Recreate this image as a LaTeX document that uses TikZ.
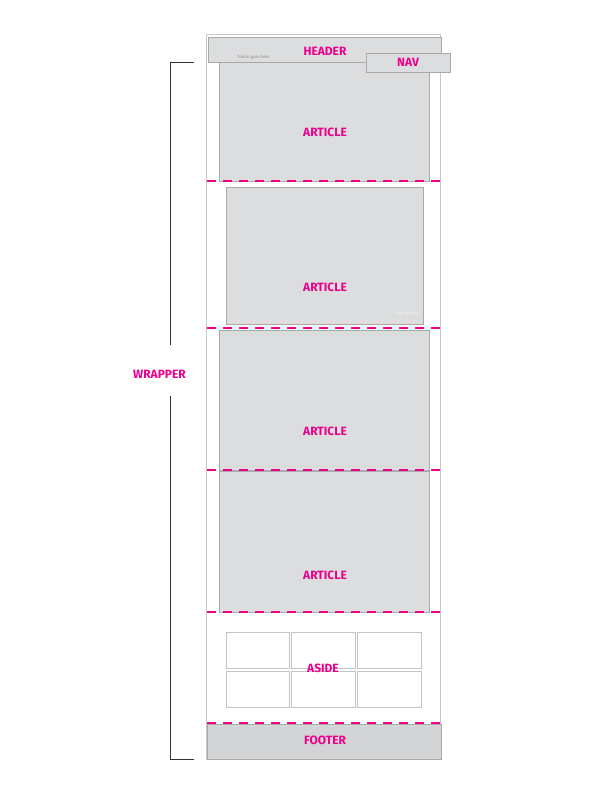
\documentclass[tikz,border=0pt]{standalone}
\usepackage{fontspec}
\setmainfont{Fira Sans}
\newfontfamily\smallserif{Liberation Serif}
\definecolor{mag}{HTML}{EC008C}
\definecolor{boxfill}{HTML}{DCDDDE}
\definecolor{footfill}{HTML}{D3D4D6}
\definecolor{boxline}{HTML}{A9A9A9}
\definecolor{cellline}{HTML}{C4C4C4}
\definecolor{outline}{HTML}{C8C8C8}
\tikzset{
  lbl/.style={text=mag, font=\fontsize{12}{12}\selectfont\bfseries, inner sep=0pt},
  panel/.style={draw=boxline, fill=boxfill, line width=0.8pt},
  cell/.style={draw=cellline, fill=white, line width=0.8pt},
  sep/.style={draw=mag, line width=2pt, dash pattern=on 8.5pt off 7.5pt},
  brack/.style={draw=black!80, line width=0.8pt},
}
\begin{document}
\begin{tikzpicture}[x=1pt,y=-1pt]
\useasboundingbox (0,0) rectangle (612,792);
% outer wrapper
\node[draw=outline, line width=0.8pt, fill=white, minimum width=234.5pt, minimum height=725pt, inner sep=0pt] (wrap) at (323.5,396.5) {};
% articles
\draw[panel] (219,62) rectangle (429.5,181);
\draw[panel] (226,187) rectangle (423,324.5);
\draw[panel] (219,330) rectangle (429.5,470);
\draw[panel] (219,471) rectangle (429.5,612.5);
% header and nav
\draw[panel] (208,37) rectangle (441,62);
\draw[panel] (366,53) rectangle (450,72);
% footer
\draw[draw=boxline, fill=footfill, line width=0.8pt] (207,724) rectangle (441.5,759);
% aside cells
\foreach \xa/\xb in {226/289,291/355,357/421}{
  \draw[cell] (\xa,632) rectangle (\xb,668);
  \draw[cell] (\xa,671) rectangle (\xb,707);
}
% dashed separators
\foreach \yy/\nm in {181/s1,328/s2,470/s3,612/s4,723/s5}{
  \coordinate (\nm a) at (207,\yy);
  \coordinate (\nm b) at (441,\yy);
  \draw[sep] (\nm a) -- (\nm b);
}
% labels
\node[lbl] (hdr) at (325,51) {HEADER};
\node[lbl] (nav) at (408,62.5) {NAV};
\node[lbl] (a1) at (325,132) {ARTICLE};
\node[lbl] (a2) at (325,287) {ARTICLE};
\node[lbl] (a3) at (325,431) {ARTICLE};
\node[lbl] (a4) at (325,575) {ARTICLE};
\node[lbl] (asd) at (323,668.5) {ASIDE};
\node[lbl] (ftr) at (325,740) {FOOTER};
\node[lbl] (wlbl) at (159.5,374) {WRAPPER};
\node[text=black!45, font=\smallserif\fontsize{5}{5}\selectfont, inner sep=0pt] (name) at (253.5,57) {Name goes here};
\node[text=white, font=\fontsize{2.6}{3}\selectfont, inner sep=0pt] (cap) at (407,314) {Image caption here};
% wrapper bracket
\coordinate (bt) at (194,62.5);
\coordinate (btc) at (170,62.5);
\coordinate (bm1) at (170,345);
\coordinate (bm2) at (170,396);
\coordinate (bbc) at (170,759);
\coordinate (bb) at (194,759);
\draw[brack] (bt) -- (btc) -- (bm1);
\draw[brack] (bm2) -- (bbc) -- (bb);
\end{tikzpicture}
\end{document}
